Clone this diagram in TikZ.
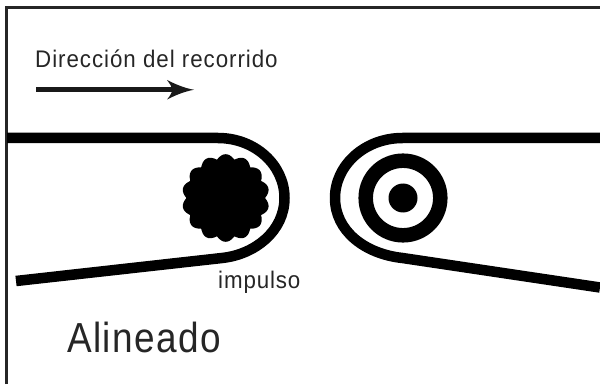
\documentclass[tikz,border=0pt]{standalone}
\usepackage{fontspec}
\newfontfamily\fdir[FakeStretch=0.93,LetterSpace=4]{Liberation Sans}
\newfontfamily\fimp[FakeStretch=0.93,LetterSpace=3.7]{Liberation Sans}
\newfontfamily\fali[FakeStretch=0.88,LetterSpace=3.3]{Liberation Sans}
\begin{document}
\begin{tikzpicture}[x=1pt,y=-1pt,
  belt/.style={line width=10.5pt,line join=round},
  frameline/.style={draw=black!85,line width=2.6pt},
  lab/.style={anchor=base west,inner sep=0pt,text=black!85}]
\useasboundingbox (0,0) rectangle (600,385);
\fill[white] (0,0) rectangle (600,385);
\coordinate (tl) at (6.5,7.5);
\draw[frameline] (6.5,384) -- (tl) -- (600,7.5);
% left belt
\coordinate (lbA) at (7,138);
\coordinate (lbB) at (218,138);
\coordinate (lbC) at (284.5,198);
\coordinate (lbD) at (222,258);
\coordinate (lbE) at (16,281);
\draw[belt] (lbA) -- (lbB) .. controls (255,138) and (284.5,165) .. (lbC)
  .. controls (284.5,231) and (255,254.5) .. (lbD) -- (lbE);
% gear
\fill[black] plot[samples=168,domain=0:357.857,variable=\a]
  ({225.7+(39.3+4.5*abs(cos(7*\a+90)))*cos(\a)},{198+(39.3+4.5*abs(cos(7*\a+90)))*sin(\a)}) -- cycle;
% right belt
\coordinate (rbA) at (600,138);
\coordinate (rbB) at (402.5,138);
\coordinate (rbC) at (335,198);
\coordinate (rbD) at (402.5,258);
\coordinate (rbE) at (600,287.5);
\draw[belt] (rbA) -- (rbB) .. controls (365,138) and (335,165) .. (rbC)
  .. controls (335,231) and (365,254) .. (rbD) -- (rbE);
% pulley
\coordinate (pul) at (403,198);
\draw[line width=14.5pt] (pul) circle (37.3);
\fill (pul) circle (14.5);
% arrow
\coordinate (arA) at (36,89.8);
\coordinate (arB) at (174,89.8);
\coordinate (arT) at (194,89.8);
\draw[line width=4.8pt,black!90] (arA) -- (arB);
\fill[black!90] (arT) .. controls (184,88) and (175,84) .. (167,80)
  .. controls (170,84) and (172,87) .. (172,89.8)
  .. controls (172,93) and (170,96) .. (167,99.5)
  .. controls (175,95.5) and (184,91.5) .. (arT) -- cycle;
% text
\node[lab,font=\fontsize{24}{24}\selectfont\fdir] (dir) at (35,68) {Dirección del recorrido};
\node[lab,font=\fontsize{24}{24}\selectfont\fimp] (imp) at (218,288) {impulso};
\node[lab,font=\fontsize{42}{42}\selectfont\fali] (ali) at (67,352) {Alineado};
\end{tikzpicture}
\end{document}
